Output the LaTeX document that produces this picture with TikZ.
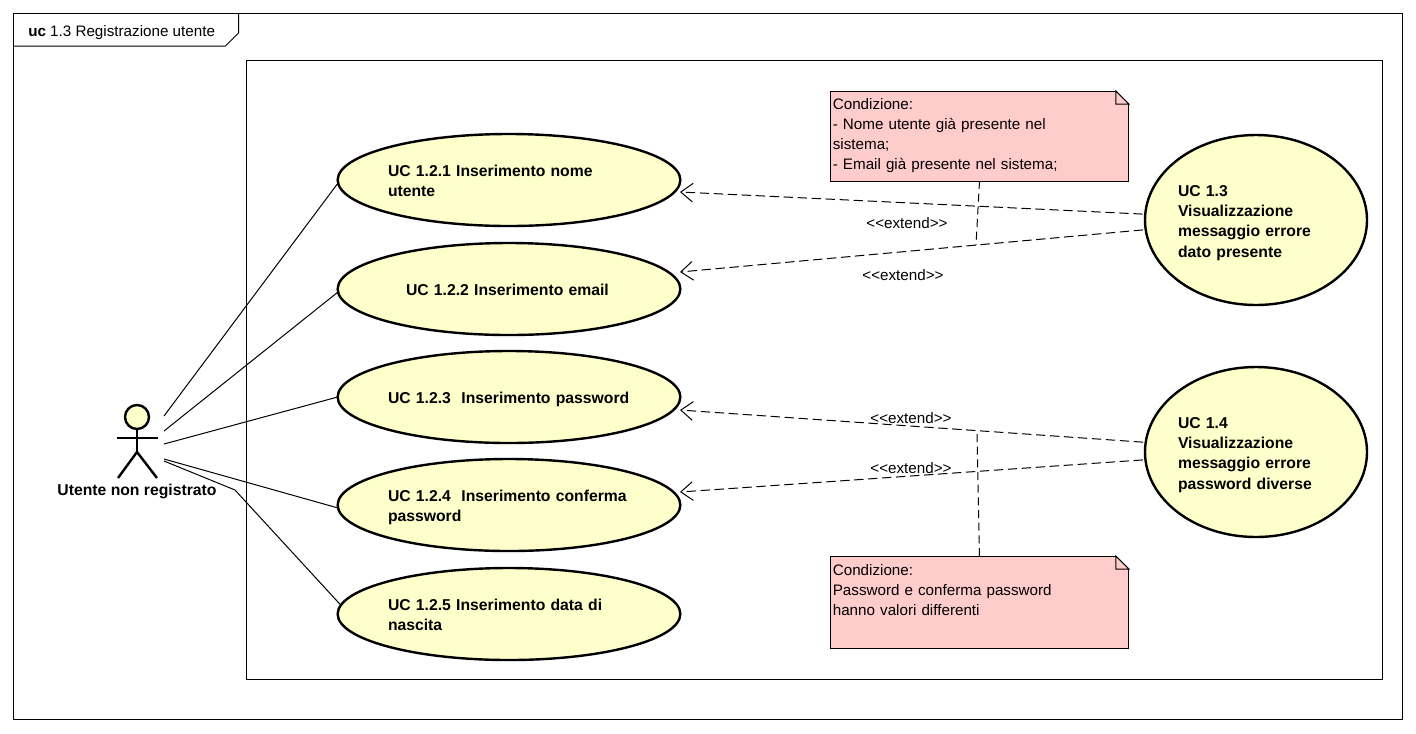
\documentclass[tikz,border=0pt]{standalone}
\usepackage{fontspec}
\setmainfont{Liberation Sans}
\usetikzlibrary{arrows.meta,shapes.geometric}

\definecolor{ucfill}{HTML}{FFFFCC}
\definecolor{notefill}{HTML}{FFCCCC}

\tikzset{
    usecase/.style={ellipse, draw, line width=1.8pt, fill=ucfill, inner sep=0pt, outer sep=0pt,
        minimum width=257pt, minimum height=69pt, text width=181.5pt, align=left,
        execute at begin node={\rule{0pt}{13.4pt}}, execute at end node={\rule[-3.5pt]{0pt}{3.5pt}},
        font=\fontsize{11.8pt}{15.2pt}\selectfont\bfseries},
    bigcase/.style={usecase, minimum width=166.5pt, minimum height=127.5pt, text width=117pt},
    notebox/.style={rectangle, draw, line width=0.75pt, fill=notefill, inner sep=0pt, outer sep=0pt,
        minimum width=224pt, text width=220pt, align=left,
        font=\fontsize{11.4pt}{15pt}\selectfont},
    extendline/.style={draw, line width=0.75pt, dash pattern=on 7pt off 3.5pt},
    notelink/.style={draw, line width=0.75pt, dash pattern=on 6pt off 3.5pt},
    actorline/.style={draw, line width=0.75pt},
    stickline/.style={draw, line width=1.8pt},
    extendtag/.style={inner sep=0pt, font=\fontsize{11.4pt}{15pt}\selectfont},
}

% Dog-ear corner of a note
\newcommand{\notefold}[1]{
    \fill[white] (#1.north east) -- ++(-13,0) -- ++(13,13) -- cycle;
    \draw[line width=0.75pt, fill=notefill] (#1.north east) ++(-13,0) -- ++(13,13) -- ++(-13,0) -- cycle;
}

\begin{document}
\begin{tikzpicture}[x=0.75pt, y=-0.75pt, >={Straight Barb[length=9pt,width=14pt]}]
    \useasboundingbox (0,0) rectangle (1416,733);

    % Frame, title tab and system box
    \draw[line width=0.75pt] (13.5,13.5) rectangle (1402.5,719);
    \draw[line width=0.75pt] (13.5,46) -- (225.5,46) -- (238.5,33) -- (238.5,13.5);
    \node[extendtag, right] (title) at (28,32.5) {\textbf{uc} 1.3 Registrazione utente};
    \draw[line width=0.75pt] (246.5,60.5) rectangle (1382,679.5);

    % Use cases
    \node[usecase] (uc1) at (509,180) {UC 1.2.1 Inserimento nome\\utente};
    \node[usecase] (uc2) at (509,289) {\hspace*{13.5pt}UC 1.2.2 Inserimento email};
    \node[usecase] (uc3) at (509,397) {UC 1.2.3\ \ Inserimento password};
    \node[usecase] (uc4) at (509,505) {UC 1.2.4\ \ Inserimento conferma\\password};
    \node[usecase] (uc5) at (509,614) {UC 1.2.5 Inserimento data di\\nascita};
    \node[bigcase] (uc13) at (1256,220) {UC 1.3\\Visualizzazione\\messaggio errore\\dato presente};
    \node[bigcase] (uc14) at (1256,452) {UC 1.4\\Visualizzazione\\messaggio errore\\password diverse};

    % Actor
    \node[circle, draw, line width=1.8pt, fill=ucfill, minimum size=18pt, inner sep=0pt, outer sep=0pt] (head) at (137,417) {};
    \coordinate (hip) at (137,452);
    \coordinate (armleft) at (117,438);
    \coordinate (armright) at (158,438);
    \coordinate (footleft) at (118,478);
    \coordinate (footright) at (157,478);
    \path[stickline] (head.south) -- (hip);
    \path[stickline] (armleft) -- (armright);
    \path[stickline] (footleft) -- (hip) -- (footright);
    \node[extendtag, font=\fontsize{11.8pt}{15pt}\selectfont\bfseries] (actor) at (137,491) {Utente non registrato};

    % Actor associations
    \coordinate (act1) at (164,416);
    \coordinate (act2) at (164,431);
    \coordinate (act3) at (164,444);
    \coordinate (act4) at (164,459);
    \coordinate (act5) at (164,461);
    \coordinate (bend) at (235,490);
    \path[actorline] (act1) -- (uc1.181);
    \path[actorline] (act2) -- (uc2.181);
    \path[actorline] (act3) -- (uc3.west);
    \path[actorline] (act4) -- (uc4.181);
    \path[actorline] (act5) -- (bend) -- (uc5.177);

    % Extend arrows
    \coordinate (tip1) at (680,192);
    \coordinate (tip2) at (680,272);
    \coordinate (tip3) at (680,410);
    \coordinate (tip4) at (680,492);
    \path[extendline, ->, shorten <=2pt] (uc13.177) -- (tip1);
    \path[extendline, ->, shorten <=2pt] (uc13.185) -- (tip2);
    \path[extendline, ->, shorten <=2pt] (uc14.175) -- (tip3);
    \path[extendline, ->, shorten <=2pt] (uc14.184) -- (tip4);
    \node[extendtag] (ext1) at (907,223) {<{}<extend>{}>};
    \node[extendtag] (ext2) at (903,275) {<{}<extend>{}>};
    \node[extendtag] (ext3) at (911,418) {<{}<extend>{}>};
    \node[extendtag] (ext4) at (911,468) {<{}<extend>{}>};

    % Notes
    \node[notebox, minimum height=67.5pt] (note1) at (979.5,136) {Condizione:\\- Nome utente già presente nel\\sistema;\\- Email già presente nel sistema;};
    \node[notebox, minimum height=69pt] (note2) at (979.5,602) {Condizione:\\Password e conferma password\\hanno valori differenti\\[3pt]\mbox{}};
    \notefold{note1}
    \notefold{note2}
    \coordinate (join1) at (976,245);
    \coordinate (join2) at (977,432);
    \path[notelink] (note1.south) -- (join1);
    \path[notelink] (note2.north) -- (join2);
\end{tikzpicture}
\end{document}
